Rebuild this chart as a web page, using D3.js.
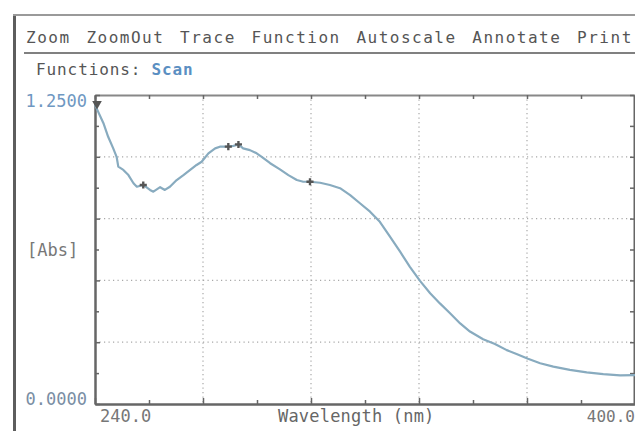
<!DOCTYPE html>
<html><head><meta charset="utf-8">
<script src="https://cdn.jsdelivr.net/npm/d3@7/dist/d3.min.js"></script>
<style>
html,body{margin:0;padding:0;background:#fff;}
svg{display:block;}
text{font-family:"DejaVu Sans Mono",monospace;white-space:pre;}
</style></head><body>
<script>
// ---- data ----
const menuItems = ["Zoom","ZoomOut","Trace","Function","Autoscale","Annotate","Print"];
const functionsLabel = "Functions:";
const functionName = "Scan";
const xTickValues = [240,272,304,336,368,400];
const xMinorTicks = [256,288,320,352,384];
const xTickLabels = ["240.0","400.0"];
const yTickValues = [0,0.25,0.5,0.75,1.0,1.25];
const yMinorTicks = [0.125,0.375,0.625,0.875,1.125];
const yTickLabels = ["1.2500","0.0000"];
const xTitle = "Wavelength (nm)";
const yTitle = "[Abs]";
const wavelength = [240.0,242.5,243.9,245.4,246.4,246.9,248.4,249.9,251.4,252.4,254.3,256.3,257.3,259.3,260.7,262.2,264.2,266.2,268.2,270.1,271.6,273.6,275.6,277.0,279.5,281.0,282.5,283.9,285.9,287.9,289.4,291.9,294.8,297.3,299.8,301.7,303.7,306.7,309.6,312.6,315.6,318.5,321.5,324.4,327.4,330.4,333.3,336.3,339.3,342.2,345.2,348.2,351.1,355.0,358.5,362.0,364.9,368.3,371.9,375.8,380.7,385.7,390.6,395.6,400.0];
const absorbance = [1.210,1.136,1.081,1.034,1.000,0.960,0.947,0.926,0.893,0.879,0.886,0.866,0.859,0.877,0.866,0.879,0.906,0.926,0.947,0.967,0.980,1.014,1.034,1.041,1.041,1.044,1.050,1.034,1.027,1.014,1.000,0.974,0.949,0.926,0.906,0.899,0.899,0.895,0.886,0.873,0.845,0.812,0.778,0.737,0.677,0.616,0.555,0.498,0.448,0.407,0.367,0.326,0.293,0.262,0.243,0.218,0.202,0.183,0.165,0.151,0.138,0.128,0.121,0.116,0.117];
const markerWl = [254.3,279.5,282.5,303.7];
const markerAbs = [0.886,1.041,1.050,0.899];

const W = 635, H = 431;
const svg = d3.select("body").append("svg").attr("width",W).attr("height",H);

// frame
svg.append("line").attr("x1",14.5).attr("x2",14.5).attr("y1",14).attr("y2",H).attr("stroke","#5d5d5d").attr("stroke-width",3);
svg.append("line").attr("x1",13).attr("x2",W).attr("y1",15).attr("y2",15).attr("stroke","#9a9a9a").attr("stroke-width",2);
svg.append("line").attr("x1",24).attr("x2",W).attr("y1",53).attr("y2",53).attr("stroke","#808080").attr("stroke-width",2);

// menu: words placed with a fixed advance and gap
const menuAdv = 11.1, menuGap = 16;
let mx = 26;
const menuPos = menuItems.map(w => { const p = mx; mx += w.length*menuAdv + menuGap; return p; });
svg.selectAll(".menu").data(menuItems).join("text")
  .attr("x",(d,i)=>menuPos[i]).attr("y",43)
  .attr("font-size",16).attr("letter-spacing",1.5).attr("fill","#555").text(d=>d);

svg.append("text").attr("x",36).attr("y",75).attr("font-size",16).attr("letter-spacing",0.9)
  .attr("fill","#555").text(functionsLabel);
svg.append("text").attr("x",36+11*10.5).attr("y",75).attr("font-size",16).attr("letter-spacing",0.9)
  .attr("font-weight","bold").attr("fill","#5b8fc2").text(functionName);

// scales
const x = d3.scaleLinear().domain([240,400]).range([95,635]);
const y = d3.scaleLinear().domain([0,1.25]).range([404,95]);

// grid
const grid = svg.append("g").attr("stroke","#a8a8a8").attr("stroke-width",1.2).attr("stroke-dasharray","1.2,3.3");
grid.selectAll(".gx").data(xTickValues.slice(1,-1)).join("line")
  .attr("x1",d=>x(d)).attr("x2",d=>x(d)).attr("y1",y(1.25)).attr("y2",y(0));
grid.selectAll(".gy").data(yTickValues.slice(1,-1)).join("line")
  .attr("y1",d=>y(d)).attr("y2",d=>y(d)).attr("x1",x(240)).attr("x2",x(400));

// axes
function styleAxis(g){
  g.select(".domain").attr("stroke","#666").attr("stroke-width",2);
  g.selectAll(".tick line").attr("stroke","#666").attr("stroke-width",1.5);
  g.selectAll(".tick text").remove();
}
svg.append("g").attr("transform",`translate(0,${y(0)})`)
  .call(d3.axisBottom(x).tickValues(xTickValues).tickSize(-6).tickSizeOuter(0)).call(styleAxis);
svg.append("g").attr("transform",`translate(0,${y(0)})`)
  .call(d3.axisBottom(x).tickValues(xMinorTicks).tickSize(-4).tickSizeOuter(0)).call(styleAxis);
svg.append("g").attr("transform",`translate(0,${y(1.25)})`)
  .call(d3.axisTop(x).tickValues(xTickValues.concat(xMinorTicks)).tickSize(-4).tickSizeOuter(0)).call(styleAxis)
  .select(".domain").attr("stroke","#888");
svg.append("g").attr("transform",`translate(${x(240)},0)`)
  .call(d3.axisLeft(y).tickValues(yTickValues).tickSize(-5).tickSizeOuter(0)).call(styleAxis);
svg.append("g").attr("transform",`translate(${x(240)},0)`)
  .call(d3.axisLeft(y).tickValues(yMinorTicks).tickSize(-4).tickSizeOuter(0)).call(styleAxis);
svg.append("g").attr("transform",`translate(${x(400)-1},0)`)
  .call(d3.axisRight(y).tickValues(yTickValues.concat(yMinorTicks)).tickSize(-4).tickSizeOuter(0)).call(styleAxis);

// axis labels
svg.append("text").attr("x",x(240)-8).attr("y",y(1.25)+12).attr("text-anchor","end")
  .attr("font-size",17).attr("fill","#6f98c2").text(yTickLabels[0]);
svg.append("text").attr("x",x(240)-8).attr("y",y(0)+1).attr("text-anchor","end")
  .attr("font-size",17).attr("fill","#7a8ea4").text(yTickLabels[1]);
svg.append("text").attr("x",27).attr("y",y(0.625)+6).attr("font-size",17).attr("fill","#777").text(yTitle);
svg.append("text").attr("x",x(240)+5).attr("y",422).attr("font-size",17).attr("fill","#777").text(xTickLabels[0]);
svg.append("text").attr("x",x(400)).attr("y",422).attr("text-anchor","end").attr("font-size",16).attr("fill","#777").text(xTickLabels[1]);
svg.append("text").attr("x",278).attr("y",422).attr("font-size",17).attr("letter-spacing",0.2).attr("fill","#666").text(xTitle);

// curve
const pts = wavelength.map((w,i)=>[w,absorbance[i]]);
svg.append("path").datum(pts)
  .attr("d",d3.line().x(d=>x(d[0])).y(d=>y(d[1])))
  .attr("fill","none").attr("stroke","#88abbf").attr("stroke-width",2.2).attr("stroke-linejoin","round");

// start marker
svg.append("path").attr("d",d3.symbol(d3.symbolTriangle,40)())
  .attr("transform",`translate(${x(wavelength[0])+2},${y(absorbance[0])-1}) rotate(180)`).attr("fill","#555");

// cross markers
svg.selectAll(".mk").data(markerWl).join("path")
  .attr("d",d3.symbol(d3.symbolCross,28)())
  .attr("transform",(d,i)=>`translate(${x(d)},${y(markerAbs[i])})`)
  .attr("fill","#555");
</script>
</body></html>
